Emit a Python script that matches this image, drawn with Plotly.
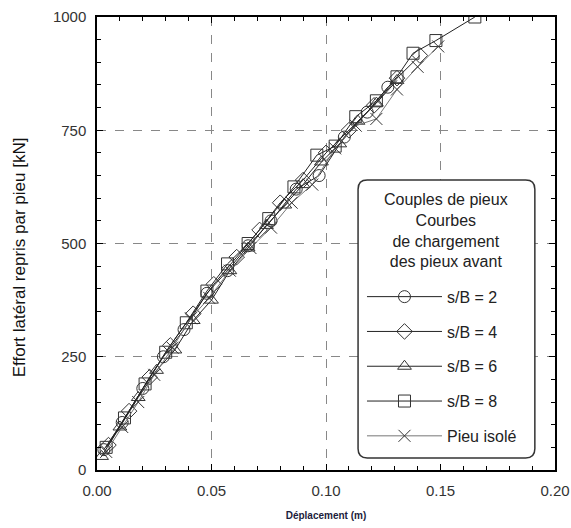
import plotly.graph_objects as go

# Load–displacement curves of the front piles for pile pairs (s/B) and the single pile
x_sb2 = [0.003, 0.011, 0.020, 0.029, 0.038, 0.048, 0.057, 0.066, 0.076, 0.087, 0.097, 0.108, 0.118, 0.127]
y_sb2 = [45, 105, 180, 250, 310, 390, 440, 495, 550, 620, 650, 735, 790, 845]

x_sb4 = [0.005, 0.014, 0.023, 0.032, 0.042, 0.051, 0.061, 0.071, 0.080, 0.090, 0.100, 0.110, 0.121, 0.131, 0.141]
y_sb4 = [55, 130, 205, 275, 345, 410, 470, 530, 590, 640, 700, 750, 805, 865, 915]

x_sb6 = [0.002, 0.010, 0.018, 0.026, 0.034, 0.042, 0.050, 0.058, 0.066, 0.074, 0.082, 0.090, 0.098, 0.106, 0.114, 0.122, 0.131]
y_sb6 = [30, 95, 160, 220, 265, 330, 375, 440, 490, 540, 585, 630, 680, 720, 770, 810, 860]

x_sb8 = [0.004, 0.012, 0.021, 0.030, 0.039, 0.048, 0.057, 0.066, 0.075, 0.086, 0.096, 0.104, 0.113, 0.122, 0.131, 0.138, 0.148, 0.165]
y_sb8 = [50, 115, 190, 260, 325, 395, 455, 500, 555, 625, 695, 715, 780, 815, 868, 920, 948, 1000]

x_iso = [0.004, 0.011, 0.018, 0.025, 0.033, 0.041, 0.049, 0.058, 0.067, 0.076, 0.085, 0.094, 0.104, 0.113, 0.122, 0.131, 0.140, 0.149]
y_iso = [40, 95, 150, 210, 270, 335, 380, 440, 490, 535, 590, 630, 710, 760, 775, 840, 890, 935]

series = [
    ("s/B = 2", x_sb2, y_sb2, "circle-open", "#222"),
    ("s/B = 4", x_sb4, y_sb4, "diamond-open", "#222"),
    ("s/B = 6", x_sb6, y_sb6, "triangle-up-open", "#222"),
    ("s/B = 8", x_sb8, y_sb8, "square-open", "#222"),
    ("Pieu isolé", x_iso, y_iso, "x-thin-open", "#777"),
]

fig = go.Figure()
for i, (name, xs, ys, sym, col) in enumerate(series):
    fig.add_trace(go.Scatter(
        x=xs, y=ys, name=name, mode="lines+markers",
        legendgroup=f"g{i}",
        line=dict(color=col, width=1),
        marker=dict(symbol=sym, size=12, color="#333",
                    line=dict(color="#333", width=1)),
    ))

font = "Liberation Sans, Arial, sans-serif"
axis_common = dict(
    showline=True, linecolor="black", linewidth=1.5, mirror="allticks",
    ticks="inside", ticklen=6, tickcolor="black", tickwidth=1,
    showgrid=True, gridcolor="#888", griddash="dash", gridwidth=1,
    zeroline=False, automargin=False,
    tickfont=dict(family=font, size=15, color="#333"),
)

fig.update_xaxes(
    range=[0, 0.2], dtick=0.05, tickformat=".2f", ticklabelstandoff=6,
    minor=dict(dtick=0.01, ticks="inside", ticklen=4, tickcolor="black", showgrid=False),
    title=dict(text="<b>Déplacement (m)</b>", font=dict(family=font, size=10, color="#1c1c3c"), standoff=14),
    **axis_common,
)
fig.update_yaxes(
    range=[0, 1000], dtick=250, ticklabelstandoff=6,
    minor=dict(dtick=50, ticks="inside", ticklen=4, tickcolor="black", showgrid=False),
    **axis_common,
)

# Rounded legend frame
x0, x1, y0, y1, r = 0.570, 0.956, 0.0265, 0.640, 0.02
ry = r * 458 / 453
path = (f"M{x0+r},{y1} L{x1-r},{y1} Q{x1},{y1} {x1},{y1-ry} "
        f"L{x1},{y0+ry} Q{x1},{y0} {x1-r},{y0} L{x0+r},{y0} "
        f"Q{x0},{y0} {x0},{y0+ry} L{x0},{y1-ry} Q{x0},{y1} {x0+r},{y1} Z")
fig.add_shape(type="path", path=path, xref="paper", yref="paper",
              fillcolor="white", line=dict(color="#333", width=1.5), layer="above")

# Legend heading, centred inside the frame
fig.add_annotation(
    text="Couples de pieux<br>Courbes<br>de chargement<br>des pieux avant",
    xref="paper", yref="paper", x=0.763, y=0.528, xanchor="center", yanchor="middle",
    align="center", showarrow=False, font=dict(family=font, size=16, color="#222"),
)

fig.add_annotation(
    text="Effort latéral repris par pieu [kN]", textangle=-90,
    xref="paper", yref="paper", x=-0.17, y=0.47, xanchor="center", yanchor="middle",
    showarrow=False, font=dict(family=font, size=17, color="#111"),
)

fig.update_layout(
    width=571, height=528,
    margin=dict(l=97, r=16, t=17, b=58),
    paper_bgcolor="white", plot_bgcolor="white",
    showlegend=True,
    legend=dict(
        x=0.5786, y=0.42, xanchor="left", yanchor="top",
        bgcolor="rgba(0,0,0,0)", borderwidth=0,
        font=dict(family=font, size=16, color="#222"),
        traceorder="grouped", tracegroupgap=11, itemwidth=75,
    ),
)

fig.write_html("out.html")
